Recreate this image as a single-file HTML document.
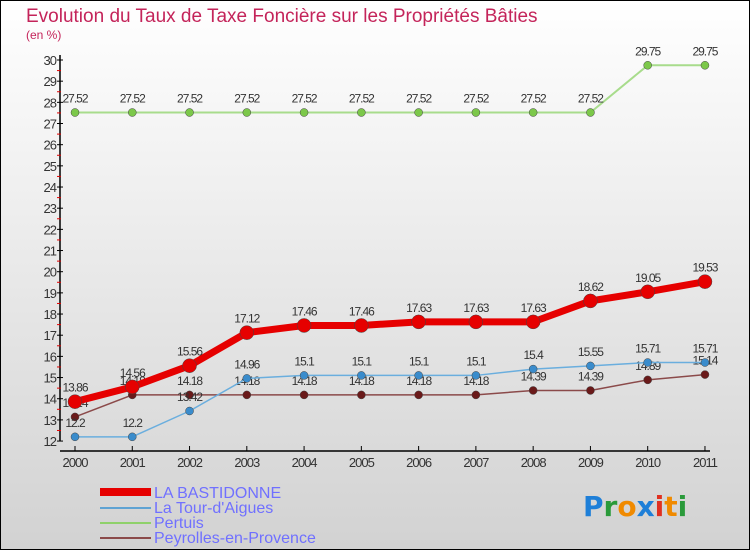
<!DOCTYPE html>
<html><head><meta charset="utf-8"><style>
body{margin:0;}
svg{display:block;font-family:"Liberation Sans",sans-serif;}
</style></head><body>
<svg id="c" width="750" height="550" xmlns="http://www.w3.org/2000/svg">
<defs><linearGradient id="bg" x1="0" y1="0" x2="0" y2="1"><stop offset="0" stop-color="#ffffff"/><stop offset="1" stop-color="#d2d2d2"/></linearGradient></defs>
<rect x="0.5" y="0.5" width="749" height="549" fill="url(#bg)" stroke="#000"/>
<text x="26" y="22" font-size="19" fill="#c4245a">Evolution du Taux de Taxe Foncière sur les Propriétés Bâties</text>
<text x="26" y="39" font-size="12" fill="#c4245a">(en %)</text>
<g id="axes"></g><g id="series"></g>
<g>
<rect x="100" y="488" width="51" height="8" fill="#e60000"/>
<text x="154" y="498" font-size="16" fill="#7070ff">LA BASTIDONNE</text>
<rect x="100" y="507" width="51" height="2" fill="#5fa3d3"/>
<text x="154" y="513" font-size="16" fill="#7070ff">La Tour-d'Aigues</text>
<rect x="100" y="522" width="51" height="2" fill="#8fd16b"/>
<text x="154" y="528" font-size="16" fill="#7070ff">Pertuis</text>
<rect x="100" y="537" width="51" height="2" fill="#8b4a4a"/>
<text x="154" y="543" font-size="16" fill="#7070ff">Peyrolles-en-Provence</text>
</g>
<g font-size="28" font-weight="bold" font-family="'DejaVu Sans',sans-serif">
<text x="583" y="516"><tspan fill="#1e7fd8">P</tspan><tspan fill="#2a9a3a">r</tspan><tspan fill="#f08a00">o</tspan><tspan fill="#1e7fd8">x</tspan><tspan fill="#e03020">i</tspan><tspan fill="#f08a00">t</tspan><tspan fill="#2a9a3a">i</tspan></text>
</g>
</svg>
<script>
const years=["2000","2001","2002","2003","2004","2005","2006","2007","2008","2009","2010","2011"];
const yTicks=[12,13,14,15,16,17,18,19,20,21,22,23,24,25,26,27,28,29,30];
const bastidonne=[13.86,14.56,15.56,17.12,17.46,17.46,17.63,17.63,17.63,18.62,19.05,19.53];
const tour=[12.2,12.2,13.42,14.96,15.1,15.1,15.1,15.1,15.4,15.55,15.71,15.71];
const pertuis=[27.52,27.52,27.52,27.52,27.52,27.52,27.52,27.52,27.52,27.52,29.75,29.75];
const peyrolles=[13.14,14.18,14.18,14.18,14.18,14.18,14.18,14.18,14.39,14.39,14.89,15.14];
const NS="http://www.w3.org/2000/svg";
const X=i=>75+i*57.27, Y=v=>60+(30-v)*21.17;
function mk(t,a,p){const e=document.createElementNS(NS,t);for(const k in a)e.setAttribute(k,a[k]);p.appendChild(e);return e;}
const ax=document.getElementById('axes');
let l=mk('line',{x1:60,y1:55,x2:60,y2:441,stroke:'#000','stroke-width':1.5},ax);


l=mk('line',{x1:60,y1:451,x2:710,y2:451,stroke:'#000','stroke-width':1.5},ax);


yTicks.forEach(v=>{
 mk('line',{x1:57,y1:Y(v),x2:63,y2:Y(v),stroke:'#000'},ax);
 if(v<30) mk('line',{x1:57,y1:Y(v+0.5),x2:61,y2:Y(v+0.5),stroke:'#e00000'},ax);
 const t=mk('text',{x:56,y:Y(v)+5,'font-size':13,'text-anchor':'end',fill:'#333','letter-spacing':'-1'},ax);
 t.textContent=v;
 
 
});
years.forEach((y,i)=>{
 mk('line',{x1:X(i),y1:446,x2:X(i),y2:451,stroke:'#000'},ax);
 const t=mk('text',{x:X(i),y:467,'font-size':13,'text-anchor':'middle',fill:'#333','letter-spacing':'-1'},ax);
 t.textContent=y;
 
 
});
const sg=document.getElementById('series');
function series(data,name,col,w,r,dot){
 const g=mk('g',{},sg);
 
 
 const p=mk('polyline',{points:data.map((v,i)=>X(i)+','+Y(v)).join(' '),fill:'none',stroke:col,'stroke-width':w,'stroke-linejoin':'round'},g);
 
 
 data.forEach((v,i)=>{
  const c=mk('circle',{cx:X(i),cy:Y(v),r:r,fill:dot,stroke:'#444','stroke-width':0.5},g);
  
  
  const t=mk('text',{x:X(i),y:Y(v)-10,'font-size':12,'text-anchor':'middle',fill:'#333','letter-spacing':'-1'},g);
  t.textContent=v;
  
  
 });
}
series(pertuis,'pertuis','#a8dc8c',2,4,'#7cc84a');
series(peyrolles,'peyrolles','#8b4a4a',1.5,4,'#6a1a1a');
series(tour,'la-tour-daigues','#6aaede',1.5,4,'#3a8ccc');
series(bastidonne,'la-bastidonne','#e60000',7,7,'#e60000');
</script>
</body></html>
